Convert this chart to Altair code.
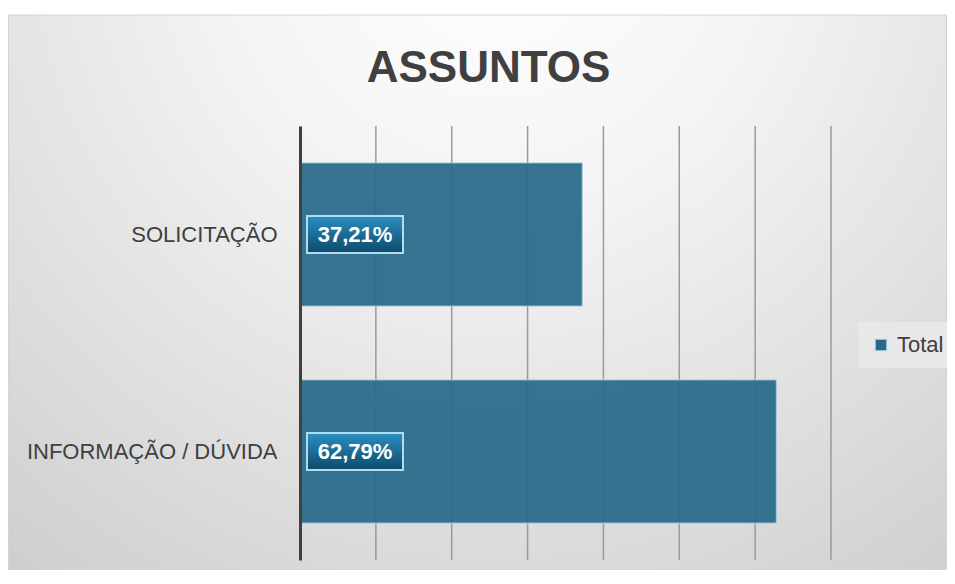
import altair as alt
import pandas as pd

categories = ["SOLICITAÇÃO", "INFORMAÇÃO / DÚVIDA"]
values = [0.3721, 0.6279]
series = ["Total", "Total"]
grid_vals = [0.1, 0.2, 0.3, 0.4, 0.5, 0.6, 0.7]
labels = [f"{v * 100:.2f}%".replace(".", ",") for v in values]

df = pd.DataFrame({"cat": categories, "val": values, "series": series, "label": labels})
gdf = pd.DataFrame({"g": grid_vals})
one = pd.DataFrame({"a": [0]})

W, H = 531, 434
PL, PT, PR, PB = 292, 118, 116, 10
FONT = "Liberation Sans"
TXT = "#404040"
BAR = "#28698a"

bg_grad = {
    "gradient": "radial",
    "x1": 0.52, "y1": 0.12, "r1": 0,
    "x2": 0.52, "y2": 0.12, "r2": 1.0,
    "stops": [
        {"offset": 0, "color": "#ffffff"},
        {"offset": 0.3, "color": "#f3f3f3"},
        {"offset": 1, "color": "#c4c4c4"},
    ],
}
box_grad = {
    "gradient": "linear",
    "x1": 0, "y1": 0, "x2": 0, "y2": 1,
    "stops": [
        {"offset": 0, "color": "#2a8fc0"},
        {"offset": 1, "color": "#0d4a6b"},
    ],
}

xs = alt.Scale(domain=[0, 0.7])
ysc = alt.Scale(paddingInner=0.34, paddingOuter=0.17)
y_axis = alt.Axis(
    labelFontSize=22, labelColor=TXT, labelFont=FONT, ticks=False, labelLimit=400,
    labelPadding=23, domainColor=TXT, domainWidth=3, zindex=1, grid=False,
)
y = alt.Y("cat:N", sort=categories, scale=ysc, axis=y_axis, title=None)

bg = alt.Chart(one).mark_rect(fill=bg_grad, stroke="#d4d4d4", strokeWidth=1).encode(
    x=alt.value(-PL + 0.5), x2=alt.value(W + PR - 0.5),
    y=alt.value(-PT + 7), y2=alt.value(H + PB),
)

rules = alt.Chart(gdf).mark_rule(color="#9a9a9a", strokeWidth=1.5).encode(
    x=alt.X("g:Q", scale=xs, axis=None, title=None)
)

bars = alt.Chart(df).mark_bar(fillOpacity=0.93, stroke="#a8cfe0", strokeWidth=1).encode(
    y=y,
    x=alt.X("val:Q", scale=xs, axis=None, title=None),
    color=alt.Color(
        "series:N",
        scale=alt.Scale(range=[BAR]),
        legend=alt.Legend(
            title=None, orient="none", legendX=558, legendY=196,
            fillColor="#e8e8e8", padding=12, symbolType="square",
            symbolSize=130, labelFontSize=22, labelColor=TXT, labelFont=FONT,
            symbolStrokeColor="#a8cfe0", symbolStrokeWidth=1, labelOffset=5,
        ),
    ),
)

boxes = alt.Chart(df).mark_bar(height=37, fill=box_grad, stroke="#b0dcf2", strokeWidth=2).encode(
    y=y, x=alt.value(7), x2=alt.value(103)
)

texts = alt.Chart(df).mark_text(
    color="white", fontWeight="bold", fontSize=22, font=FONT, baseline="middle"
).encode(y=y, x=alt.value(55), text="label:N")

chart = (
    alt.layer(bg, rules, bars, boxes, texts)
    .properties(
        width=W, height=H,
        padding={"left": PL, "top": PT, "right": PR, "bottom": PB},
        autosize=alt.AutoSizeParams(type="none"),
        title=alt.TitleParams(
            "ASSUNTOS", fontSize=44, font=FONT, fontWeight="bold", color=TXT,
            anchor="middle", dx=-77, offset=-111, baseline="alphabetic",
        ),
        background="white",
    )
    .configure_view(stroke=None)
)

chart.save("out.html", embed_options={"renderer": "svg", "actions": False})
